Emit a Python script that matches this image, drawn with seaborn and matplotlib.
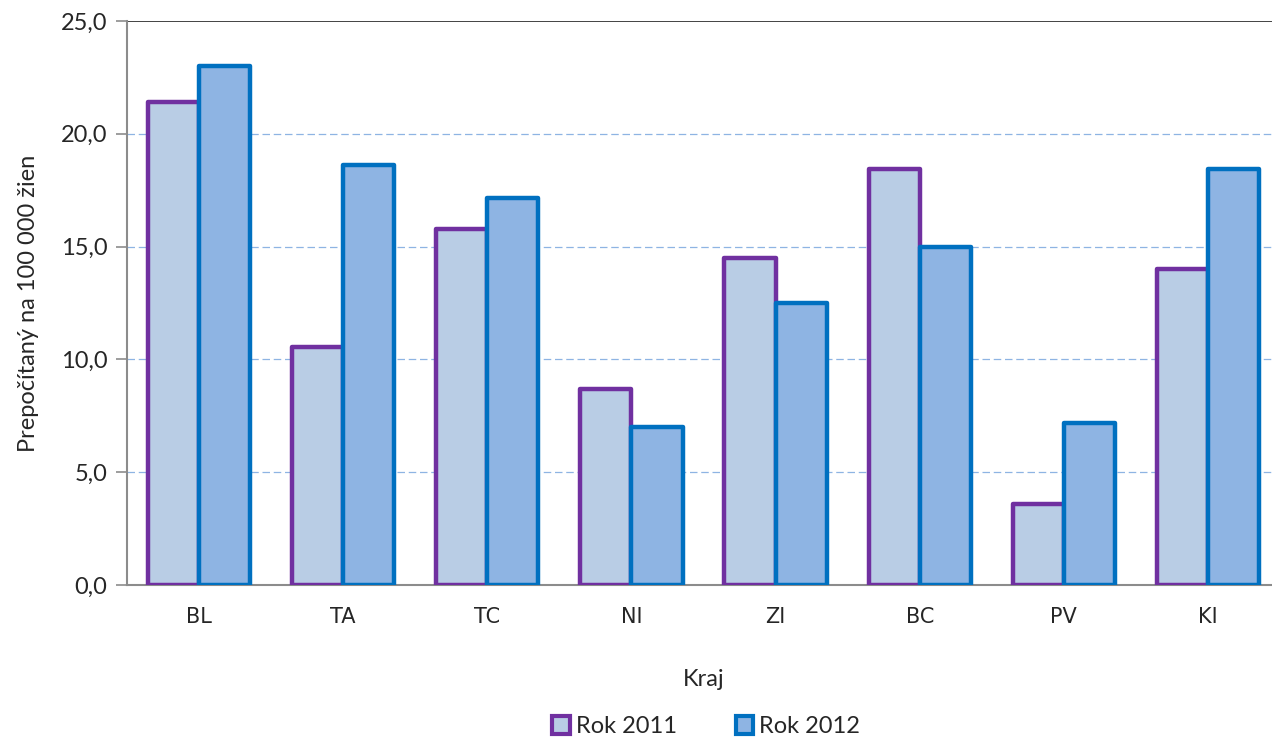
import matplotlib
matplotlib.use("Agg")
import matplotlib.pyplot as plt
import seaborn as sns
import pandas as pd
import numpy as np
from matplotlib.patches import Patch

categories = ["BL", "TA", "TC", "NI", "ZI", "BC", "PV", "KI"]
rok_2011 = [21.4, 10.55, 15.8, 8.7, 14.5, 18.45, 3.6, 14.0]
rok_2012 = [23.0, 18.6, 17.15, 7.0, 12.5, 15.0, 7.2, 18.45]
series_names = ["Rok 2011", "Rok 2012"]
y_ticks = [0, 5, 10, 15, 20, 25]
y_tick_labels = ["0,0", "5,0", "10,0", "15,0", "20,0", "25,0"]

df = pd.DataFrame({
    "Kraj": categories * 2,
    "value": rok_2011 + rok_2012,
    "series": [series_names[0]] * len(categories) + [series_names[1]] * len(categories),
})

face = {"Rok 2011": "#B9CDE5", "Rok 2012": "#8EB4E3"}
edge = {"Rok 2011": "#7030A0", "Rok 2012": "#0070C0"}

sns.set_style("white")
plt.rcParams["font.family"] = ["Lato", "DejaVu Sans"]

fig = plt.figure(figsize=(12.72, 7.4), dpi=100)
ax = fig.add_axes([127 / 1272, 1 - 585 / 740, (1280 - 127) / 1272, (585 - 21) / 740])

sns.barplot(data=df, x="Kraj", y="value", hue="series", palette=face, saturation=1,
            width=0.71, gap=0, ax=ax, legend=False, zorder=3)

for cont, name in zip(ax.containers, series_names):
    for bar in cont:
        bar.set_edgecolor(edge[name])
        bar.set_linewidth(3.2)
        bar.set_joinstyle("round")

ax.set_ylim(0, 25)
ax.set_xlim(-0.5, len(categories) - 0.5)
ax.set_yticks(y_ticks)
ax.set_yticklabels(y_tick_labels, fontsize=17)
ax.set_xticks(range(len(categories)))
ax.set_xticklabels(categories, fontsize=15, family="DejaVu Sans")
ax.set_xticks(np.arange(-0.5, len(categories), 1.0), minor=True)
ax.tick_params(axis="x", which="major", length=0, pad=16)
ax.tick_params(axis="x", which="minor", length=7, width=1.2, color="#8c8c8c", direction="out")
ax.tick_params(axis="y", length=8, width=1.2, color="#8c8c8c", direction="out", left=True, pad=6)

for y in [5, 10, 15, 20]:
    ax.axhline(y, color="#8EB4E3", linestyle=(0, (6, 3)), linewidth=0.9, zorder=1)
ax.axhline(25, color="#222222", linewidth=1.2, zorder=1)

for s in ["top", "right"]:
    ax.spines[s].set_visible(False)
for s in ["left", "bottom"]:
    ax.spines[s].set_color("#8c8c8c")
    ax.spines[s].set_linewidth(1.5)

ax.set_xlabel("Kraj", fontsize=17, labelpad=30)
ax.set_ylabel("Prepočítaný na 100 000 žien", fontsize=17, labelpad=16)

handles = [Patch(facecolor=face[n], edgecolor=edge[n], linewidth=3) for n in series_names]
fig.legend(handles, series_names, loc="center", bbox_to_anchor=(0.555, 0.018),
           ncol=2, frameon=False, fontsize=17, handlelength=0.75, handleheight=0.75,
           handletextpad=0.25, columnspacing=2.5)

fig.savefig("out.png", dpi=100)
